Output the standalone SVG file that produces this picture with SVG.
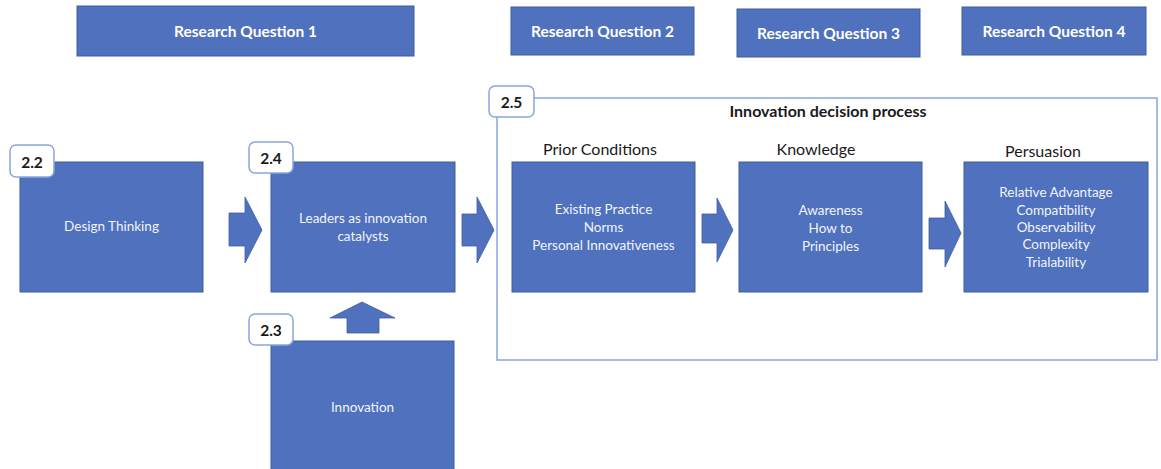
<svg xmlns="http://www.w3.org/2000/svg" width="1161" height="469" viewBox="0 0 1161 469">
  <style>
    .box { fill: #4f71be; stroke: #3f5e9f; stroke-width: 1; }
    .arrow { fill: #4f71be; stroke: #3f5e9f; stroke-width: 0.8; }
    .tag { fill: #ffffff; stroke: #8aa6dc; stroke-width: 1.5; }
    .frame { fill: none; stroke: #8aa6dc; stroke-width: 1.5; }
    .rq { font-family: "Lato", "Liberation Sans", sans-serif; font-weight: bold; font-size: 15.5px; fill: #ffffff; text-anchor: middle; }
    .in { font-family: "Lato", "Liberation Sans", sans-serif; font-size: 13.5px; fill: #f2f4fa; text-anchor: middle; }
    .head { font-family: "Lato", "Liberation Sans", sans-serif; font-size: 16px; fill: #1a1a1a; text-anchor: middle; }
    .tagt { font-family: "Lato", "Liberation Sans", sans-serif; font-weight: bold; font-size: 15.5px; fill: #1a1a1a; text-anchor: middle; }
  </style>

  <rect width="1161" height="469" fill="#ffffff"/>

  <!-- research question headers -->
  <g id="rq1"><rect class="box" x="77" y="6" width="337" height="50"/><text class="rq" x="245.5" y="37">Research Question 1</text></g>
  <g id="rq2"><rect class="box" x="511" y="7" width="183" height="48"/><text class="rq" x="602.5" y="37">Research Question 2</text></g>
  <g id="rq3"><rect class="box" x="737" y="9" width="183" height="48"/><text class="rq" x="828.5" y="39">Research Question 3</text></g>
  <g id="rq4"><rect class="box" x="962" y="7" width="184" height="48"/><text class="rq" x="1054" y="37">Research Question 4</text></g>

  <!-- innovation decision process frame -->
  <g id="decision-process">
    <rect class="frame" x="497" y="98" width="660" height="262"/>
    <text class="head" x="828" y="117" font-weight="bold" font-size="15.5">Innovation decision process</text>
    <rect class="tag" x="489" y="86" width="45" height="31" rx="6"/>
    <text class="tagt" x="511.5" y="107.5">2.5</text>
  </g>

  <!-- connectors -->
  <g id="connectors">
    <polygon class="arrow" points="229,213 245,213 245,197 262,230 245,263 245,246 229,246"/>
    <polygon class="arrow" points="462,214 477,214 477,197 494,230 477,263 477,246 462,246"/>
    <polygon class="arrow" points="702,214 717,214 717,198 733,230 717,262 717,243 702,243"/>
    <polygon class="arrow" points="929,218 945,218 945,201 961,233 945,267 945,249 929,249"/>
    <polygon class="arrow" points="347,333 347,318 330,318 362,302 395,318 379,318 379,333"/>
  </g>

  <!-- 2.2 -->
  <g id="design-thinking">
    <rect class="box" x="20" y="162" width="183" height="130"/>
    <text class="in" x="111.5" y="231">Design Thinking</text>
    <rect class="tag" x="10" y="145" width="44" height="32" rx="6"/>
    <text class="tagt" x="32" y="167.5">2.2</text>
  </g>

  <!-- 2.4 -->
  <g id="leaders">
    <rect class="box" x="271" y="162" width="184" height="130"/>
    <text class="in" x="363" y="223">Leaders as innovation</text>
    <text class="in" x="363" y="241">catalysts</text>
    <rect class="tag" x="249" y="142" width="44" height="31" rx="6"/>
    <text class="tagt" x="271" y="163.5">2.4</text>
  </g>

  <!-- 2.3 -->
  <g id="innovation">
    <rect class="box" x="271" y="341" width="183" height="140"/>
    <text class="in" x="362.5" y="412">Innovation</text>
    <rect class="tag" x="249" y="314" width="44" height="31" rx="6"/>
    <text class="tagt" x="271" y="335.5">2.3</text>
  </g>

  <!-- prior conditions -->
  <g id="prior-conditions">
    <text class="head" x="600" y="155">Prior Conditions</text>
    <rect class="box" x="512" y="162" width="183" height="130"/>
    <text class="in" x="603.5" y="214">Existing Practice</text>
    <text class="in" x="603.5" y="232">Norms</text>
    <text class="in" x="603.5" y="250">Personal Innovativeness</text>
  </g>

  <!-- knowledge -->
  <g id="knowledge">
    <text class="head" x="816" y="155">Knowledge</text>
    <rect class="box" x="739" y="162" width="183" height="130"/>
    <text class="in" x="830.5" y="215">Awareness</text>
    <text class="in" x="830.5" y="233">How to</text>
    <text class="in" x="830.5" y="251">Principles</text>
  </g>

  <!-- persuasion -->
  <g id="persuasion">
    <text class="head" x="1043" y="157">Persuasion</text>
    <rect class="box" x="964" y="162" width="184" height="130"/>
    <text class="in" x="1056" y="197">Relative Advantage</text>
    <text class="in" x="1056" y="215">Compatibility</text>
    <text class="in" x="1056" y="232">Observability</text>
    <text class="in" x="1056" y="249">Complexity</text>
    <text class="in" x="1056" y="267">Trialability</text>
  </g>
</svg>
